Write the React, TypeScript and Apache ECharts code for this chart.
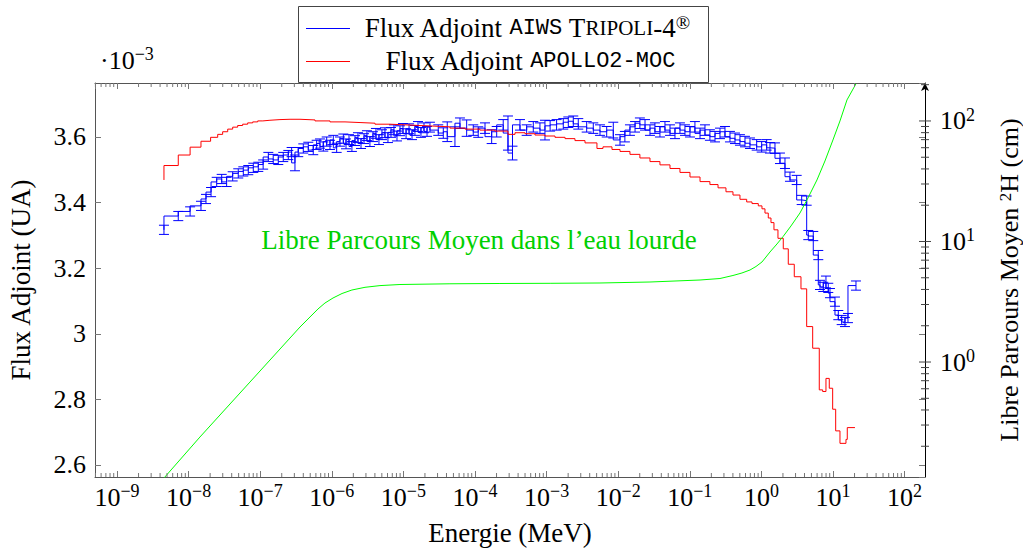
import React, { useEffect, useRef } from "react";
import * as echarts from "echarts";

// ---------------- data ----------------
// Adjoint flux, AIWS TRIPOLI-4 (units of 1e-3), energies in MeV
const energiesTripoli = [
  4.53e-9, 7.18e-9, 1.05e-8, 1.49e-8, 1.75e-8, 2.06e-8, 2.47e-8, 2.9e-8, 3.4e-8, 4.13e-8, 4.94e-8, 5.81e-8,
  6.82e-8, 8.01e-8, 9.41e-8, 1.1e-7, 1.3e-7, 1.52e-7, 1.79e-7, 2.1e-7, 2.47e-7, 2.75e-7, 3.06e-7, 3.4e-7,
  4.0e-7, 4.7e-7, 5.51e-7, 6.15e-7, 6.84e-7, 7.61e-7, 8.49e-7, 9.44e-7, 1.05e-6, 1.17e-6, 1.3e-6, 1.45e-6,
  1.58e-6, 1.74e-6, 1.91e-6, 2.11e-6, 2.32e-6, 2.56e-6, 2.82e-6, 3.1e-6, 3.41e-6, 3.76e-6, 4.14e-6, 4.56e-6,
  5.02e-6, 5.53e-6, 6.09e-6, 6.71e-6, 7.39e-6, 8.14e-6, 8.96e-6, 9.87e-6, 1.09e-5, 1.2e-5, 1.32e-5, 1.45e-5,
  1.6e-5, 1.76e-5, 1.94e-5, 2.14e-5, 2.35e-5, 3.07e-5, 3.61e-5, 4.1e-5, 5.25e-5, 6.17e-5, 7.65e-5, 9.46e-5,
  1.11e-4, 1.38e-4, 1.71e-4, 2.01e-4, 2.48e-4, 2.89e-4, 3.34e-4, 4.25e-4, 5.27e-4, 6.52e-4, 8.08e-4, 9.49e-4,
  1.12e-3, 1.38e-3, 1.71e-3, 2.01e-3, 2.36e-3, 2.77e-3, 3.63e-3, 4.49e-3, 5.57e-3, 6.91e-3, 8.54e-3, 1.06e-2,
  1.24e-2, 1.46e-2, 1.72e-2, 2.01e-2, 2.37e-2, 2.78e-2, 3.26e-2, 3.83e-2, 4.5e-2, 5.29e-2, 6.21e-2, 7.29e-2,
  8.56e-2, 0.1006, 0.118, 0.139, 0.163, 0.191, 0.225, 0.264, 0.31, 0.364, 0.428, 0.502,
  0.59, 0.693, 0.859, 1.009, 1.185, 1.318, 1.548, 1.818, 2.135, 2.508, 3.111, 3.653,
  4.29, 4.518, 5.305, 6.232, 6.583, 7.318, 7.977, 8.592, 9.075, 10.66, 11.86, 13.22,
  14.7, 16.19, 20.94,
];
const fluxTripoli = [
  3.317, 3.359, 3.373, 3.39, 3.411, 3.432, 3.463, 3.472, 3.463, 3.48, 3.489, 3.495,
  3.499, 3.506, 3.509, 3.516, 3.539, 3.533, 3.53, 3.539, 3.545, 3.554, 3.521, 3.554,
  3.565, 3.57, 3.56, 3.576, 3.58, 3.571, 3.586, 3.576, 3.591, 3.567, 3.586, 3.595,
  3.579, 3.592, 3.571, 3.589, 3.598, 3.58, 3.595, 3.604, 3.586, 3.601, 3.611, 3.592,
  3.607, 3.613, 3.598, 3.614, 3.622, 3.603, 3.619, 3.626, 3.61, 3.625, 3.607, 3.62,
  3.632, 3.614, 3.628, 3.617, 3.63, 3.621, 3.612, 3.616, 3.601, 3.642, 3.627, 3.621,
  3.615, 3.627, 3.601, 3.616, 3.637, 3.612, 3.551, 3.637, 3.621, 3.631, 3.627, 3.621,
  3.634, 3.637, 3.64, 3.645, 3.648, 3.64, 3.631, 3.627, 3.621, 3.616, 3.621, 3.591,
  3.601, 3.621, 3.631, 3.642, 3.637, 3.621, 3.627, 3.616, 3.631, 3.621, 3.611, 3.627,
  3.621, 3.616, 3.631, 3.611, 3.621, 3.606, 3.601, 3.611, 3.616, 3.601, 3.596, 3.591,
  3.586, 3.581, 3.576, 3.57, 3.576, 3.567, 3.566, 3.535, 3.52, 3.479, 3.469, 3.408,
  3.406, 3.301, 3.298, 3.24, 3.149, 3.143, 3.158, 3.14, 3.124, 3.098, 3.057, 3.042,
  3.036, 3.048, 3.147,
];
const errTripoli = [
  0.014, 0.014, 0.014, 0.014, 0.014, 0.014, 0.014, 0.014, 0.014, 0.014, 0.014, 0.014,
  0.014, 0.014, 0.014, 0.014, 0.014, 0.014, 0.014, 0.014, 0.014, 0.014, 0.024, 0.014,
  0.014, 0.014, 0.014, 0.014, 0.014, 0.014, 0.014, 0.014, 0.014, 0.014, 0.014, 0.014,
  0.015, 0.015, 0.015, 0.015, 0.015, 0.015, 0.015, 0.015, 0.015, 0.015, 0.015, 0.015,
  0.015, 0.015, 0.015, 0.015, 0.015, 0.015, 0.015, 0.015, 0.015, 0.015, 0.015, 0.015,
  0.015, 0.015, 0.015, 0.015, 0.015, 0.016, 0.016, 0.03, 0.03, 0.016, 0.025, 0.016,
  0.016, 0.016, 0.021, 0.016, 0.016, 0.052, 0.021, 0.016, 0.016, 0.016, 0.016, 0.03,
  0.016, 0.016, 0.016, 0.016, 0.016, 0.016, 0.016, 0.016, 0.016, 0.016, 0.024, 0.016,
  0.016, 0.016, 0.016, 0.016, 0.016, 0.016, 0.016, 0.016, 0.016, 0.016, 0.016, 0.016,
  0.016, 0.016, 0.016, 0.016, 0.016, 0.016, 0.016, 0.016, 0.016, 0.016, 0.016, 0.016,
  0.016, 0.016, 0.016, 0.016, 0.016, 0.016, 0.016, 0.016, 0.016, 0.014, 0.014, 0.014,
  0.014, 0.014, 0.014, 0.014, 0.014, 0.014, 0.018, 0.014, 0.014, 0.014, 0.014, 0.014,
  0.014, 0.014, 0.014,
];

// Adjoint flux, APOLLO2-MOC
const energiesApollo = [
  4.53e-9, 7.18e-9, 1.05e-8, 1.49e-8, 2.03e-8, 2.55e-8, 2.99e-8, 3.52e-8, 4.13e-8, 4.85e-8, 5.69e-8, 6.69e-8,
  7.86e-8, 9.23e-8, 1.09e-7, 1.37e-7, 1.89e-7, 2.61e-7, 3.6e-7, 5.83e-7, 9.44e-7, 1.53e-6, 2.48e-6, 4.01e-6,
  6.5e-6, 1.05e-5, 1.7e-5, 2.76e-5, 4.47e-5, 7.25e-5, 1.17e-4, 1.9e-4, 2.89e-4, 3.62e-4, 4.99e-4, 6.88e-4,
  9.49e-4, 1.31e-3, 1.81e-3, 2.49e-3, 3.44e-3, 5.05e-3, 6.13e-3, 8.19e-3, 1.06e-2, 1.46e-2, 2.01e-2, 2.78e-2,
  3.83e-2, 5.29e-2, 7.29e-2, 0.1006, 0.139, 0.191, 0.248, 0.32, 0.401, 0.502, 0.623, 0.739,
  0.905, 1.019, 1.122, 1.248, 1.361, 1.498, 1.704, 2.021, 2.374, 2.879, 3.571, 4.29,
  5.203, 6.433, 7.175, 7.977, 8.872, 9.897, 10.9, 12.52, 15.18, 15.83, 20.27,
];
const fluxApollo = [
  3.469, 3.513, 3.545, 3.569, 3.587, 3.599, 3.608, 3.616, 3.624, 3.63, 3.635, 3.639,
  3.643, 3.646, 3.649, 3.651, 3.653, 3.654, 3.654, 3.652, 3.649, 3.646, 3.644, 3.642,
  3.639, 3.637, 3.635, 3.633, 3.631, 3.627, 3.624, 3.621, 3.618, 3.608, 3.613, 3.61,
  3.606, 3.603, 3.599, 3.595, 3.589, 3.582, 3.565, 3.57, 3.562, 3.556, 3.547, 3.536,
  3.525, 3.515, 3.504, 3.492, 3.478, 3.464, 3.455, 3.445, 3.433, 3.423, 3.41, 3.402,
  3.397, 3.39, 3.381, 3.368, 3.353, 3.339, 3.317, 3.291, 3.259, 3.212, 3.174, 3.137,
  3.022, 2.956, 2.829, 2.824, 2.864, 2.834, 2.77, 2.704, 2.666, 2.678, 2.714,
];

// Mean free path in heavy water (cm), right axis
const energiesLpm = [
  4.53e-9, 1.44e-8, 7.2e-8, 3.6e-7, 4.96e-7, 6.41e-7, 8.03e-7, 1.04e-6, 1.39e-6, 1.91e-6, 2.91e-6, 4.71e-6,
  8.96e-6, 4.47e-5, 2.23e-4, 1.12e-3, 5.57e-3, 2.78e-2, 0.139, 0.264, 0.401, 0.535, 0.693, 0.84,
  1.019, 1.318, 1.651, 2.002, 2.59, 3.458, 4.474, 5.973, 7.725, 9.99, 12.52, 15.68, 20.9,
];
const lpmD2O = [
  0.109, 0.2385, 0.682, 1.952, 2.363, 2.753, 3.087, 3.397, 3.702, 3.958, 4.168, 4.305,
  4.397, 4.457, 4.483, 4.499, 4.525, 4.612, 4.791, 4.931, 5.222, 5.478, 5.8, 6.2,
  6.76, 8.18, 9.535, 10.96, 13.45, 17.24, 22.96, 32.39, 46.56, 69.56, 100, 149.4, 203,
];

// axis decorations
const fluxTickLabels = [2.6, 2.8, 3, 3.2, 3.4, 3.6];
const xDecades = [-10, -9, -8, -7, -6, -5, -4, -3, -2, -1, 0, 1, 2];
const rightDecades = [-1, 0, 1, 2];
const minorFactors = [2, 3, 4, 5, 6, 7, 8, 9];

const X_MIN = -9.307;
const X_MAX = 2.285;
const Y_MIN = 2.5634;
const Y_MAX = 3.7646;
const R_MIN = -0.954;
const R_MAX = 2.315;

const SERIF = "'Liberation Serif', 'Times New Roman', serif";
const MONO = "'Liberation Mono', 'DejaVu Sans Mono', monospace";
const FS = 27; // text size
const TFS = 26; // tick label size
const SFS = 18; // superscript size

const lg = (v: number) => Math.log10(v);

const supRich = {
  b: { fontFamily: SERIF, fontSize: TFS, lineHeight: 30, color: "#000" },
  s: { fontFamily: SERIF, fontSize: SFS, lineHeight: 18, verticalAlign: "top", color: "#000" },
};

const powLabel = (v: number) => {
  const r = Math.round(v);
  if (Math.abs(v - r) > 1e-6) return "";
  const s = r < 0 ? "\u2212" + Math.abs(r) : String(Math.abs(r));
  return `{b|10}{s|${s}}`;
};

export default function App() {
  const ref = useRef<HTMLDivElement>(null);

  useEffect(() => {
    if (!ref.current) return;
    const chart = echarts.init(ref.current, undefined, { renderer: "svg" });

    const blueData = energiesTripoli.map((e, i) => [lg(e), fluxTripoli[i]]);
    const errData = energiesTripoli.map((e, i) => [lg(e), fluxTripoli[i] - errTripoli[i], fluxTripoli[i] + errTripoli[i]]);
    const redData = energiesApollo.map((e, i) => [lg(e), fluxApollo[i]]);
    const greenData = energiesLpm.map((e, i) => [lg(e), lg(lpmD2O[i])]);

    const xMinor: number[][] = [];
    xDecades.forEach((d) =>
      minorFactors.forEach((k) => {
        const v = d + lg(k);
        if (v > X_MIN && v < X_MAX) xMinor.push([v, Y_MIN]);
      })
    );
    const rTicks: number[][] = [];
    rightDecades.forEach((d) => {
      if (d > R_MIN && d < R_MAX) rTicks.push([X_MAX, d, 1]);
      minorFactors.forEach((k) => {
        const v = d + lg(k);
        if (v > R_MIN && v < R_MAX) rTicks.push([X_MAX, v, 0]);
      });
    });

    const frame = "#555";
    const tickColor = "#777";

    const option: any = {
      animation: false,
      backgroundColor: "#fff",
      textStyle: { fontFamily: SERIF },
      grid: { left: 95, right: 98, top: 83, bottom: 74, containLabel: false, outerBoundsMode: "none" },
      xAxis: [
        {
          type: "value",
          min: X_MIN,
          max: X_MAX,
          splitNumber: 11,
          position: "bottom",
          axisLine: { onZero: false, lineStyle: { color: frame, width: 1 } },
          axisTick: { inside: true, length: 6, lineStyle: { color: tickColor } },
          splitLine: { show: false },
          axisLabel: {
            formatter: powLabel,
            rich: supRich,
            margin: 5,
            showMinLabel: false,
            showMaxLabel: false,
          },
          name: "Energie (MeV)",
          nameLocation: "middle",
          nameGap: 42,
          nameTextStyle: { fontFamily: SERIF, fontSize: FS, color: "#000" },
        },
        {
          type: "value",
          min: X_MIN,
          max: X_MAX,
          splitNumber: 11,
          position: "top",
          axisLine: { onZero: false, lineStyle: { color: frame, width: 1 } },
          axisTick: { inside: true, length: 6, lineStyle: { color: tickColor } },
          splitLine: { show: false },
          axisLabel: { show: false },
        },
      ],
      yAxis: [
        {
          type: "value",
          min: Y_MIN,
          max: Y_MAX,
          splitNumber: 6,
          position: "left",
          axisLine: { onZero: false, lineStyle: { color: frame, width: 1 } },
          axisTick: { inside: true, length: 6, lineStyle: { color: tickColor } },
          splitLine: { show: false },
          axisLabel: {
            formatter: (v: number) => {
              const t = fluxTickLabels.find((x) => Math.abs(x - v) < 1e-6);
              return t === undefined ? "" : String(t);
            },
            fontFamily: SERIF,
            fontSize: TFS,
            color: "#000",
            margin: 9,
            showMinLabel: false,
            showMaxLabel: false,
          },
          name: "Flux Adjoint (UA)",
          nameLocation: "middle",
          nameGap: 61,
          nameRotate: 90,
          nameTextStyle: { fontFamily: SERIF, fontSize: FS, color: "#000" },
        },
        {
          type: "value",
          min: R_MIN,
          max: R_MAX,
          splitNumber: 3,
          position: "right",
          axisLine: {
            onZero: false,
            lineStyle: { color: "#000", width: 1 },
            symbol: ["none", "arrow"],
            symbolSize: [6, 8],
          },
          axisTick: { show: false },
          splitLine: { show: false },
          axisLabel: {
            formatter: powLabel,
            rich: supRich,
            margin: 15,
            showMinLabel: false,
            showMaxLabel: false,
          },
          name: "Libre Parcours Moyen {s|2}H (cm)",
          nameLocation: "middle",
          nameGap: 72,
          nameRotate: 90,
          nameTextStyle: {
            fontFamily: SERIF,
            fontSize: 26,
            lineHeight: 24,
            color: "#000",
            rich: { s: { fontFamily: SERIF, fontSize: 17, lineHeight: 16, verticalAlign: "top", color: "#000" } },
          },
        },
        {
          type: "value",
          min: Y_MIN,
          max: Y_MAX,
          splitNumber: 6,
          position: "right",
          axisLine: { show: false, onZero: false },
          axisTick: { inside: true, length: 6, lineStyle: { color: tickColor } },
          splitLine: { show: false },
          axisLabel: { show: false },
        },
      ],
      series: [
        {
          name: "Flux Adjoint AIWS TRIPOLI-4®",
          type: "line",
          step: "start",
          xAxisIndex: 0,
          yAxisIndex: 0,
          data: blueData,
          showSymbol: false,
          symbol: "none",
          lineStyle: { color: "#0000ff", width: 1 },
          z: 2,
        },
        {
          name: "errors",
          type: "custom",
          xAxisIndex: 0,
          yAxisIndex: 0,
          data: errData,
          encode: { x: 0, y: [1, 2] },
          silent: true,
          z: 2,
          renderItem: (params: any, api: any) => {
            const x = api.value(0);
            const lo = api.coord([x, api.value(1)]);
            const hi = api.coord([x, api.value(2)]);
            const st = { stroke: "#0000ff", lineWidth: 1 };
            const c = 5;
            return {
              type: "group",
              children: [
                { type: "line", shape: { x1: lo[0], y1: lo[1], x2: hi[0], y2: hi[1] }, style: st },
                { type: "line", shape: { x1: lo[0] - c, y1: lo[1], x2: lo[0] + c, y2: lo[1] }, style: st },
                { type: "line", shape: { x1: hi[0] - c, y1: hi[1], x2: hi[0] + c, y2: hi[1] }, style: st },
              ],
            };
          },
        },
        {
          name: "Flux Adjoint APOLLO2-MOC",
          type: "line",
          step: "start",
          xAxisIndex: 0,
          yAxisIndex: 0,
          data: redData,
          showSymbol: false,
          symbol: "none",
          lineStyle: { color: "#ff0000", width: 1 },
          z: 3,
        },
        {
          name: "Libre Parcours Moyen",
          type: "line",
          xAxisIndex: 0,
          yAxisIndex: 1,
          data: greenData,
          smooth: false,
          showSymbol: false,
          symbol: "none",
          lineStyle: { color: "#00ff00", width: 1 },
          z: 4,
        },
        {
          name: "xMinorTicks",
          type: "custom",
          xAxisIndex: 0,
          yAxisIndex: 0,
          data: xMinor,
          silent: true,
          clip: false,
          z: 5,
          renderItem: (params: any, api: any) => {
            const p = api.coord([api.value(0), Y_MIN]);
            const cs = params.coordSys;
            const st = { stroke: tickColor, lineWidth: 1 };
            const bot = cs.y + cs.height;
            return {
              type: "group",
              children: [
                { type: "line", shape: { x1: p[0], y1: bot, x2: p[0], y2: bot - 4 }, style: st },
                { type: "line", shape: { x1: p[0], y1: cs.y, x2: p[0], y2: cs.y + 4 }, style: st },
              ],
            };
          },
        },
        {
          name: "rightTicks",
          type: "custom",
          xAxisIndex: 0,
          yAxisIndex: 1,
          data: rTicks,
          silent: true,
          clip: false,
          z: 5,
          renderItem: (params: any, api: any) => {
            const p = api.coord([X_MAX, api.value(1)]);
            const cs = params.coordSys;
            const r = cs.x + cs.width;
            const major = api.value(2) === 1;
            const a = major ? 6 : 4;
            return {
              type: "line",
              shape: { x1: r - a, y1: p[1], x2: r + a, y2: p[1] },
              style: { stroke: "#444", lineWidth: 1 },
            };
          },
        },
      ],
      graphic: [
        {
          type: "text",
          x: 100,
          y: 60,
          style: {
            text: "{b|\u00b710}{s|\u22123}",
            rich: supRich,
            align: "left",
            textAlign: "left",
            verticalAlign: "middle",
            textVerticalAlign: "middle",
          },
        },
        {
          type: "text",
          x: 479,
          y: 240,
          style: {
            text: "Libre Parcours Moyen dans l\u2019eau lourde",
            fill: "#00d000",
            font: `${FS}px ${SERIF}`,
            align: "center",
            textAlign: "center",
            verticalAlign: "middle",
            textVerticalAlign: "middle",
          },
          z: 20,
        },
        {
          type: "rect",
          shape: { x: 298.5, y: 6.5, width: 410, height: 76 },
          style: { fill: "#fff", stroke: "#444", lineWidth: 1 },
          z: 30,
        },
        {
          type: "line",
          shape: { x1: 306, y1: 28.5, x2: 350, y2: 28.5 },
          style: { stroke: "#0000ff", lineWidth: 1 },
          z: 31,
        },
        {
          type: "line",
          shape: { x1: 306, y1: 61.5, x2: 350, y2: 61.5 },
          style: { stroke: "#ff0000", lineWidth: 1 },
          z: 31,
        },
        {
          type: "text",
          x: 527,
          y: 28,
          z: 31,
          style: {
            text: "{r|Flux Adjoint }{m|AIWS}{r| T}{sc|RIPOLI}{r|-4}{sup|\u00ae}",
            rich: {
              r: { fontFamily: SERIF, fontSize: FS, lineHeight: 30, fill: "#000", color: "#000" },
              m: { fontFamily: MONO, fontSize: 22, lineHeight: 30, fill: "#000", color: "#000" },
              sc: { fontFamily: SERIF, fontSize: 21, lineHeight: 30, fill: "#000", color: "#000" },
              sup: { fontFamily: SERIF, fontSize: 19, lineHeight: 19, verticalAlign: "top", fill: "#000", color: "#000" },
            },
            align: "center",
            textAlign: "center",
            verticalAlign: "middle",
            textVerticalAlign: "middle",
          },
        },
        {
          type: "text",
          x: 530,
          y: 61,
          z: 31,
          style: {
            text: "{r|Flux Adjoint }{m|APOLLO2-MOC}",
            rich: {
              r: { fontFamily: SERIF, fontSize: FS, lineHeight: 30, fill: "#000", color: "#000" },
              m: { fontFamily: MONO, fontSize: 22, lineHeight: 30, fill: "#000", color: "#000" },
            },
            align: "center",
            textAlign: "center",
            verticalAlign: "middle",
            textVerticalAlign: "middle",
          },
        },
      ],
    };

    chart.setOption(option);
    return () => chart.dispose();
  }, []);

  return (
    <div
      ref={ref}
      style={{ position: "absolute", left: 0, top: 0, width: 1023, height: 551, background: "#fff" }}
    />
  );
}
